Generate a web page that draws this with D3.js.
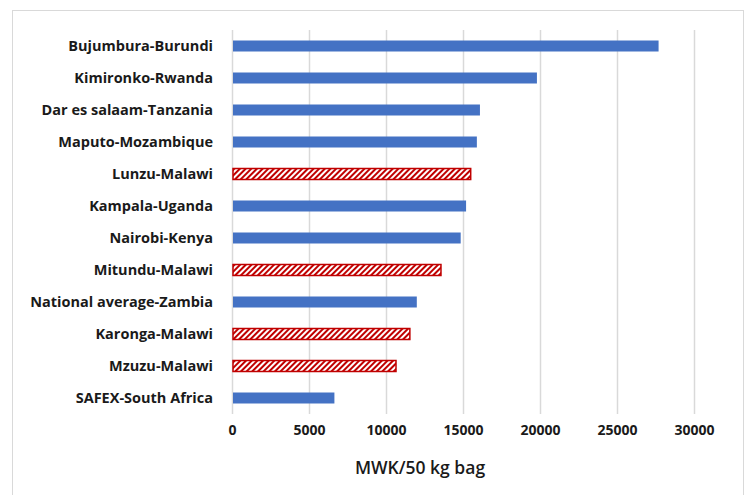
<!DOCTYPE html>
<html>
<head>
<meta charset="utf-8">
<script src="https://cdn.jsdelivr.net/npm/d3@7"></script>
<style>
  html, body { margin: 0; padding: 0; background: #fff; }
  svg { display: block; }
  text { font-family: "Open Sans", Lato, sans-serif; font-weight: 700; fill: #1a1a1a; }
</style>
</head>
<body>
<svg id="chart" width="746" height="495"></svg>
<script>
// Maize grain price per 50 kg bag, in Malawi kwacha, by market
const markets = [
  "Bujumbura-Burundi",
  "Kimironko-Rwanda",
  "Dar es salaam-Tanzania",
  "Maputo-Mozambique",
  "Lunzu-Malawi",
  "Kampala-Uganda",
  "Nairobi-Kenya",
  "Mitundu-Malawi",
  "National average-Zambia",
  "Karonga-Malawi",
  "Mzuzu-Malawi",
  "SAFEX-South Africa"
];
const prices = [27700, 19800, 16100, 15900, 15500, 15200, 14850, 13570, 12000, 11550, 10650, 6650];
const isMalawi = [false, false, false, false, true, false, false, true, false, true, true, false];
const xTicks = [0, 5000, 10000, 15000, 20000, 25000, 30000];
const xTitle = "MWK/50 kg bag";

const svg = d3.select("#chart");
const plot = { left: 232, right: 694, top: 30, bottom: 414 };

// Outer chart frame
svg.append("rect")
  .attr("x", 12.5).attr("y", 10.5)
  .attr("width", 731).attr("height", 490)
  .attr("fill", "none").attr("stroke", "#d9d9d9").attr("stroke-width", 1);

// Diagonal hatch for the Malawi markets
const defs = svg.append("defs");
const pat = defs.append("pattern")
  .attr("id", "hatch")
  .attr("patternUnits", "userSpaceOnUse")
  .attr("width", 4).attr("height", 4)
  .attr("patternTransform", "rotate(45)");
pat.append("rect").attr("width", 4).attr("height", 4).attr("fill", "#fff");
pat.append("rect").attr("width", 2).attr("height", 4).attr("fill", "#c00000");

const x = d3.scaleLinear().domain([0, 30000]).range([plot.left, plot.right]);
const y = d3.scaleBand().domain(markets).range([plot.top, plot.bottom]).paddingInner(0.64).paddingOuter(0.32);

// Vertical gridlines
svg.append("g")
  .selectAll("line")
  .data(xTicks)
  .join("line")
  .attr("x1", d => Math.round(x(d)) + 0.5)
  .attr("x2", d => Math.round(x(d)) + 0.5)
  .attr("y1", plot.top)
  .attr("y2", plot.bottom)
  .attr("stroke", "#d9d9d9")
  .attr("stroke-width", 1.5);

// Bars
const data = markets.map((m, i) => ({ m, v: prices[i], mw: isMalawi[i] }));
const bandC = d => y(d.m) + y.bandwidth() / 2;

svg.append("g")
  .selectAll("rect")
  .data(data)
  .join("rect")
  .attr("x", x(0) + 1)
  .attr("y", d => bandC(d) - 5.5)
  .attr("width", d => x(d.v) - x(0) - 1)
  .attr("height", 11)
  .attr("fill", d => d.mw ? "url(#hatch)" : "#4472c4")
  .attr("stroke", d => d.mw ? "#c00000" : "none")
  .attr("stroke-width", 1.5);

// Category labels
const yAxis = d3.axisLeft(y).tickSize(0).tickPadding(0);
svg.append("g")
  .attr("transform", `translate(${plot.left - 19},0)`)
  .call(yAxis)
  .call(g => g.select(".domain").remove())
  .selectAll("text")
  .style("font-size", "14.5px")
  .attr("fill", "#1a1a1a");

// Value axis labels
const xAxis = d3.axisBottom(x).tickValues(xTicks).tickSize(0).tickPadding(0).tickFormat(d3.format("d"));
svg.append("g")
  .attr("transform", `translate(0,${plot.bottom + 11})`)
  .call(xAxis)
  .call(g => g.select(".domain").remove())
  .selectAll("text")
  .style("font-size", "14px")
  .attr("fill", "#1a1a1a");

// Axis title
svg.append("text")
  .attr("x", 420)
  .attr("y", 474)
  .attr("text-anchor", "middle")
  .style("font-size", "17.5px")
  .style("font-weight", 600)
  .text(xTitle);
</script>
</body>
</html>
